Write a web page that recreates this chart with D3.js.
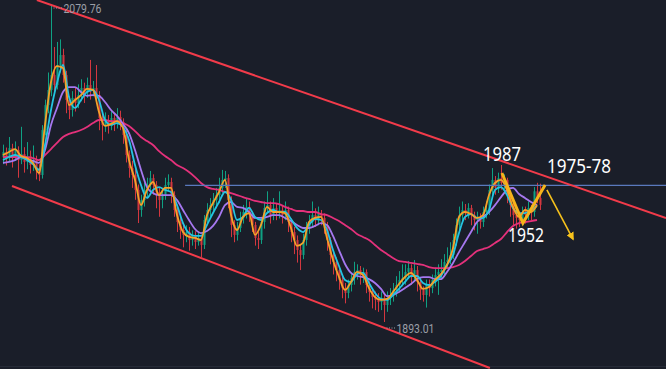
<!DOCTYPE html>
<html><head><meta charset="utf-8">
<script src="https://cdn.jsdelivr.net/npm/d3@7"></script>
<style>
html,body{margin:0;padding:0;background:#1a1e29;}
svg{display:block;}
</style></head><body>
<svg id="chart" width="666" height="369"></svg>
<script>
// ---- candle data (one candle per period) ----
const opens = [
1990.0,1993.2,1989.6,1995.5,1991.4,1994.3,1988.4,1992.0,1987.3,1990.8,
1985.5,1988.4,1983.7,1979.6,2006.1,2020.8,2029.7,2038.5,2032.6,2044.4,
2050.3,2038.5,2023.8,2017.9,2025.0,2022.0,2026.7,2030.9,2028.5,2032.6,
2029.7,2030.9,2026.7,2013.2,2009.1,2012.0,2008.5,2013.2,2009.7,2013.8,
2010.8,2003.2,1991.4,1983.7,1979.6,1970.8,1959.0,1964.9,1970.8,1973.7,
1977.8,1973.7,1969.6,1964.9,1967.8,1973.7,1975.5,1967.8,1959.0,1951.9,
1947.2,1944.3,1946.0,1941.3,1943.7,1940.1,1942.5,1938.4,1953.1,1959.0,
1961.9,1964.9,1967.8,1972.0,1976.7,1977.8,1964.9,1950.2,1944.3,1948.4,
1954.3,1957.8,1960.8,1956.0,1950.2,1942.5,1941.3,1951.9,1960.2,1961.9,
1956.0,1960.2,1957.8,1959.0,1956.0,1959.0,1951.9,1946.0,1941.3,1935.4,
1932.5,1941.3,1948.4,1951.9,1956.0,1953.1,1956.6,1954.3,1950.2,1941.3,
1932.5,1928.4,1923.6,1917.8,1913.0,1910.1,1914.8,1918.9,1922.5,1923.6,
1920.7,1922.5,1914.8,1910.7,1907.7,1906.0,1904.8,1907.2,1903.0,1907.2,
1908.9,1911.9,1914.8,1917.8,1918.9,1922.5,1924.8,1920.7,1923.6,1916.6,
1911.9,1908.9,1914.8,1913.0,1917.8,1920.7,1922.5,1923.6,1928.4,1929.5,
1932.5,1941.3,1950.2,1956.0,1959.0,1957.8,1960.2,1956.0,1953.1,1954.3,
1951.9,1957.8,1959.0,1970.8,1976.7,1972.0,1977.8,1974.9,1976.7,1967.8,
1961.9,1956.0,1954.3,1953.1,1957.8,1956.0,1960.2,1957.8,1970.0,1966.0];
const highs = [
1997.5,1995.8,2002.0,1998.0,1999.4,1996.5,2008.0,1996.0,1999.0,1994.0,
1997.0,1991.0,1986.0,2009.0,2024.0,2040.0,2079.76,2055.0,2058.0,2059.5,
2054.0,2041.0,2026.0,2029.0,2031.0,2033.0,2036.0,2034.0,2037.0,2047.4,
2035.0,2044.4,2029.0,2016.0,2016.5,2015.0,2018.0,2016.0,2019.0,2017.5,
2013.0,2006.0,1994.0,1988.0,1983.0,1974.0,1968.0,1975.0,1978.0,1982.0,
1980.0,1976.0,1972.0,1972.0,1978.0,1980.0,1978.0,1970.0,1962.0,1955.0,
1951.0,1950.0,1949.0,1947.0,1946.5,1946.0,1944.0,1956.0,1963.0,1966.0,
1969.0,1972.0,1978.0,1982.6,1982.0,1980.0,1967.0,1953.0,1952.0,1958.0,
1962.0,1966.0,1964.0,1958.0,1952.0,1946.0,1955.0,1964.0,1970.0,1964.0,
1966.0,1963.0,1970.0,1962.0,1964.0,1961.0,1954.0,1949.0,1944.0,1939.0,
1945.0,1952.0,1956.0,1964.0,1960.0,1961.0,1959.0,1957.0,1952.0,1943.0,
1935.0,1931.0,1926.0,1920.0,1916.0,1918.0,1922.0,1928.5,1927.0,1926.0,
1925.0,1924.0,1917.0,1913.0,1911.0,1910.0,1911.0,1909.0,1911.0,1913.0,
1916.0,1920.0,1923.0,1927.0,1927.0,1929.0,1927.0,1929.5,1926.0,1919.0,
1914.0,1918.0,1918.0,1921.0,1925.0,1927.0,1930.0,1933.0,1937.0,1940.0,
1945.0,1954.0,1961.0,1964.0,1962.5,1963.0,1962.0,1958.0,1958.0,1957.0,
1961.0,1964.0,1974.0,1983.7,1979.0,1981.0,1985.5,1980.0,1978.0,1970.0,
1964.0,1960.0,1958.0,1961.0,1961.0,1964.0,1962.0,1972.5,1975.0,1974.5];
const lows = [
1986.0,1985.2,1987.5,1984.0,1988.0,1978.0,1986.0,1981.0,1983.0,1980.5,
1982.0,1977.0,1976.0,1977.5,2003.0,2016.0,2026.0,2027.0,2030.0,2040.0,
2034.0,2016.0,2012.5,2014.0,2017.0,2019.0,2023.0,2022.0,2025.0,2024.0,
2026.0,2022.0,2006.0,2000.0,2005.0,2004.0,2006.0,2005.5,2007.0,2006.0,
1998.0,1987.0,1978.0,1972.0,1965.0,1951.3,1955.0,1961.0,1966.0,1970.0,
1968.0,1960.0,1955.0,1960.0,1965.0,1970.0,1963.0,1955.0,1946.0,1942.0,
1937.0,1940.0,1935.0,1938.0,1936.0,1938.0,1931.3,1936.0,1950.0,1955.0,
1958.0,1960.0,1963.0,1969.0,1972.0,1960.0,1943.0,1940.0,1941.0,1946.0,
1951.0,1954.0,1952.0,1946.0,1938.0,1936.0,1939.0,1948.0,1957.0,1951.0,
1953.0,1953.0,1954.0,1951.0,1953.0,1946.0,1940.0,1933.0,1928.0,1923.6,
1930.0,1938.0,1945.0,1949.0,1949.0,1950.0,1950.0,1945.0,1935.0,1927.0,
1921.0,1917.0,1912.0,1907.0,1904.0,1907.0,1911.0,1915.0,1918.0,1915.0,
1916.0,1910.0,1905.0,1901.0,1900.0,1899.0,1900.0,1893.01,1899.0,1903.0,
1905.0,1908.0,1911.0,1914.0,1915.0,1919.0,1915.0,1917.0,1911.0,1906.0,
1905.0,1901.5,1908.0,1910.0,1914.0,1909.0,1918.0,1920.0,1925.0,1927.0,
1930.0,1938.0,1947.0,1952.0,1953.0,1954.0,1950.0,1947.0,1945.0,1948.0,
1949.0,1954.0,1956.0,1967.0,1968.0,1969.0,1971.0,1971.0,1963.0,1955.0,
1950.0,1948.0,1949.0,1950.0,1951.0,1953.0,1953.0,1955.0,1963.0,1959.0];
const closes = [
1993.2,1989.6,1995.5,1991.4,1994.3,1988.4,1992.0,1987.3,1990.8,1985.5,
1988.4,1983.7,1979.6,2006.1,2020.8,2029.7,2038.5,2032.6,2044.4,2050.3,
2038.5,2023.8,2017.9,2025.0,2022.0,2026.7,2030.9,2028.5,2032.6,2029.7,
2030.9,2026.7,2013.2,2009.1,2012.0,2008.5,2013.2,2009.7,2013.8,2010.8,
2003.2,1991.4,1983.7,1979.6,1970.8,1959.0,1964.9,1970.8,1973.7,1977.8,
1973.7,1969.6,1964.9,1967.8,1973.7,1975.5,1967.8,1959.0,1951.9,1947.2,
1944.3,1946.0,1941.3,1943.7,1940.1,1942.5,1938.4,1953.1,1959.0,1961.9,
1964.9,1967.8,1972.0,1976.7,1977.8,1964.9,1950.2,1944.3,1948.4,1954.3,
1957.8,1960.8,1956.0,1950.2,1942.5,1941.3,1951.9,1960.2,1961.9,1956.0,
1960.2,1957.8,1959.0,1956.0,1959.0,1951.9,1946.0,1941.3,1935.4,1932.5,
1941.3,1948.4,1951.9,1956.0,1953.1,1956.6,1954.3,1950.2,1941.3,1932.5,
1928.4,1923.6,1917.8,1913.0,1910.1,1914.8,1918.9,1922.5,1923.6,1920.7,
1922.5,1914.8,1910.7,1907.7,1906.0,1904.8,1907.2,1903.0,1907.2,1908.9,
1911.9,1914.8,1917.8,1918.9,1922.5,1924.8,1920.7,1923.6,1916.6,1911.9,
1908.9,1914.8,1913.0,1917.8,1920.7,1922.5,1923.6,1928.4,1929.5,1932.5,
1941.3,1950.2,1956.0,1959.0,1957.8,1960.2,1956.0,1953.1,1954.3,1951.9,
1957.8,1959.0,1970.8,1976.7,1972.0,1977.8,1974.9,1976.7,1967.8,1961.9,
1956.0,1954.3,1953.1,1957.8,1956.0,1960.2,1957.8,1970.0,1966.0,1962.0];

// ---- moving-average lines, read every 2nd candle ----
const maStep = 2;
const maOrange = [
1991.4,1993.2,1994.9,1990.8,1989.6,1986.7,1980.8,2009.1,2034.4,2043.8,
2042.6,2020.8,2023.8,2026.7,2030.3,2029.7,2016.7,2008.5,2009.7,2011.4,
2007.3,1988.4,1976.7,1961.9,1970.8,1975.5,1967.8,1972.0,1972.0,1956.0,
1946.0,1943.1,1942.5,1941.3,1956.0,1963.1,1969.6,1976.7,1956.0,1947.2,
1954.9,1957.2,1944.3,1950.2,1960.8,1957.8,1957.8,1957.2,1948.4,1937.8,
1939.6,1951.9,1954.3,1954.9,1942.5,1929.5,1919.5,1911.9,1916.6,1922.5,
1920.7,1913.0,1907.7,1906.0,1906.6,1910.7,1915.4,1919.5,1921.9,1917.8,
1912.5,1913.6,1917.8,1921.3,1926.6,1936.6,1954.9,1957.8,1956.6,1954.3,
1956.0,1967.8,1974.9,1976.7,1970.8,1960.8,1954.9,1959.0,1957.8,1961.9];
const maCyan = [
1988.4,1990.2,1991.4,1990.2,1988.4,1986.1,1982.6,1997.3,2017.9,2033.8,
2044.4,2025.6,2019.1,2023.8,2028.5,2029.7,2023.8,2012.0,2009.1,2010.2,
2007.9,2000.2,1985.5,1973.7,1966.1,1970.8,1972.5,1970.8,1969.6,1961.9,
1951.3,1945.4,1943.7,1943.7,1950.2,1957.2,1963.7,1969.6,1964.9,1953.1,
1954.9,1960.2,1954.9,1953.1,1957.2,1959.0,1957.8,1957.8,1953.7,1948.4,
1946.0,1950.2,1953.7,1953.1,1947.2,1935.4,1926.0,1917.8,1916.6,1921.3,
1921.9,1916.0,1910.1,1906.6,1906.0,1908.9,1912.5,1916.6,1920.1,1920.1,
1916.0,1914.8,1916.6,1920.1,1926.6,1932.5,1945.4,1954.9,1956.6,1954.3,
1954.3,1959.0,1970.8,1972.5,1967.8,1960.2,1957.2,1957.2,1959.0,1961.3];
const maPurple = [
1986.7,1987.3,1988.4,1990.2,1989.0,1987.9,1986.7,1994.3,2009.1,2019.1,
2028.5,2031.4,2031.4,2028.5,2026.2,2026.7,2026.2,2022.6,2017.9,2014.4,
2009.7,2004.3,1994.3,1982.6,1972.5,1969.0,1967.8,1967.8,1967.8,1964.9,
1959.0,1953.1,1947.8,1945.4,1946.6,1949.6,1954.9,1961.9,1963.7,1960.8,
1960.2,1957.8,1954.3,1954.3,1954.9,1956.0,1956.0,1954.3,1952.5,1950.2,
1948.4,1948.4,1949.6,1951.3,1950.2,1943.7,1935.4,1927.2,1921.9,1920.1,
1919.5,1918.3,1916.0,1912.5,1908.3,1908.9,1910.7,1913.0,1915.4,1918.3,
1919.5,1919.5,1918.3,1918.3,1922.5,1927.8,1934.2,1940.1,1946.0,1951.9,
1954.9,1957.8,1961.9,1966.6,1970.8,1972.0,1968.4,1966.1,1963.7,1961.9];
const maPink = [
1990.2,1990.2,1990.2,1990.8,1990.2,1989.6,1988.4,1991.4,1994.9,1998.5,
2002.0,2003.8,2004.9,2006.1,2007.9,2010.2,2012.0,2012.0,2011.4,2011.4,
2010.2,2008.5,2005.5,2002.0,1999.6,1997.3,1993.7,1990.8,1988.4,1985.5,
1983.7,1981.4,1978.4,1974.9,1972.5,1971.4,1970.8,1969.6,1969.0,1967.8,
1966.6,1965.5,1964.3,1963.7,1963.1,1963.1,1962.5,1960.8,1959.6,1958.4,
1958.4,1957.8,1957.8,1956.6,1956.0,1954.3,1952.5,1950.2,1947.8,1944.9,
1943.1,1941.3,1938.4,1935.4,1933.1,1930.7,1928.9,1928.4,1927.8,1927.2,
1926.6,1925.4,1924.8,1924.8,1924.8,1925.4,1926.6,1928.9,1931.9,1934.8,
1936.0,1937.2,1939.6,1941.9,1946.0,1949.6,1951.3,1951.9,1952.5,1953.1];

// ---- drawings: [candle index, price] ----
const channelUpper = [[11.3, 2082.7], [221, 1954.3]];
const channelLower = [[3, 1973.1], [162.3, 1865.9]];
const resistanceLine = [[60.7, 1973.5], [221, 1973.5]];
const zigzagPath = [[166.3, 1980.8], [173.3, 1951.3], [180.7, 1973.7]];
const arrowPath = [[181.3, 1970.8], [190, 1941.9]];
const noteTexts = ["1987", "1975-78", "1952"];
const noteIndex = [160, 181.3, 168.3];
const notePrice = [1987.9, 1980.8, 1940.1];
const noteWidth = [38, 64, 36];
const highLabel = "2079.76", lowLabel = "1893.01";
const highIndex = 16, lowIndex = 127;

// ---- scales ----
const svg = d3.select("#chart");
const W = 666, H = 369;
const x = d3.scaleLinear().domain([0, closes.length - 1]).range([3, 540]);
const y = d3.scaleLinear().domain([1893.01, 2079.76]).range([322, 5]);

svg.append("rect").attr("width", W).attr("height", H).attr("fill", "#1a1e29");
svg.append("line").attr("x1", 0).attr("x2", W).attr("y1", 366.5).attr("y2", 366.5)
  .attr("stroke", "#262b37").attr("stroke-width", 1);

const up = "#0fa183", down = "#d3373f";
const candles = closes.map((c, i) => ({i, o: opens[i], h: highs[i], l: lows[i], c}));
const cg = svg.append("g");
cg.selectAll("line.wick").data(candles).join("line")
  .attr("x1", d => x(d.i) + 0.5).attr("x2", d => x(d.i) + 0.5)
  .attr("y1", d => y(d.h)).attr("y2", d => y(d.l))
  .attr("stroke", d => d.c >= d.o ? up : down).attr("stroke-width", 1);
cg.selectAll("rect.body").data(candles).join("rect")
  .attr("x", d => x(d.i) - 0.5).attr("width", 2)
  .attr("y", d => y(Math.max(d.o, d.c)))
  .attr("height", d => Math.max(1, Math.abs(y(d.o) - y(d.c))))
  .attr("fill", d => d.c >= d.o ? up : down);

// moving averages
const maLine = d3.line().x((d, k) => x(k * maStep)).y(d => y(d)).curve(d3.curveMonotoneX);
[[maPink, "#e4317b"], [maPurple, "#a678f0"], [maCyan, "#25c4e2"], [maOrange, "#f6a229"]]
  .forEach(([arr, col]) => {
    svg.append("path").datum(arr).attr("d", maLine).attr("fill", "none")
      .attr("stroke", col).attr("stroke-width", 1.8).attr("stroke-linejoin", "round");
  });

// lines
const pl = d3.line().x(d => x(d[0])).y(d => y(d[1]));
svg.append("path").datum(resistanceLine).attr("d", pl).attr("stroke", "#5a79bd")
  .attr("stroke-width", 1.3).attr("fill", "none");
[channelUpper, channelLower].forEach(seg => {
  svg.append("path").datum(seg).attr("d", pl).attr("stroke", "#f23b4a")
    .attr("stroke-width", 2).attr("fill", "none");
});

// zigzag + arrow
svg.append("path").datum(zigzagPath).attr("d", pl).attr("stroke", "#f5b31a")
  .attr("stroke-width", 3).attr("fill", "none").attr("stroke-linejoin", "miter");
const defs = svg.append("defs");
defs.append("marker").attr("id", "ah").attr("viewBox", "0 0 10 10").attr("refX", 8).attr("refY", 5)
  .attr("markerWidth", 5).attr("markerHeight", 5).attr("orient", "auto")
  .append("path").attr("d", "M0,0 L10,5 L0,10 Z").attr("fill", "#f7c21c");
svg.append("path").datum(arrowPath).attr("d", pl).attr("stroke", "#f7c21c")
  .attr("stroke-width", 1.6).attr("fill", "none").attr("marker-end", "url(#ah)");

// annotations
noteTexts.forEach((t, k) => {
  svg.append("text").attr("x", x(noteIndex[k])).attr("y", y(notePrice[k]))
    .attr("fill", "#ffffff").attr("font-family", "'Noto Sans', 'Open Sans', sans-serif")
    .attr("font-size", 20).attr("textLength", noteWidth[k]).attr("lengthAdjust", "spacingAndGlyphs")
    .text(t);
});

// high / low price labels
function priceTag(idx, price, label, dy) {
  const px = x(idx) + 1.5, py = y(price) + dy;
  svg.append("line").attr("x1", px + 1).attr("x2", px + 10).attr("y1", py).attr("y2", py)
    .attr("stroke", "#9a9ea7").attr("stroke-width", 1).attr("stroke-dasharray", "1,1.5");
  svg.append("text").attr("x", px + 11).attr("y", py).attr("dy", "0.36em")
    .attr("fill", "#9a9ea7").attr("font-family", "Roboto, 'Noto Sans', sans-serif")
    .attr("font-size", 13.5).attr("textLength", 38).attr("lengthAdjust", "spacingAndGlyphs")
    .text(label);
}
priceTag(highIndex, highs[highIndex], highLabel, 3);
priceTag(lowIndex, lows[lowIndex], lowLabel, 6);
</script>
</body></html>
